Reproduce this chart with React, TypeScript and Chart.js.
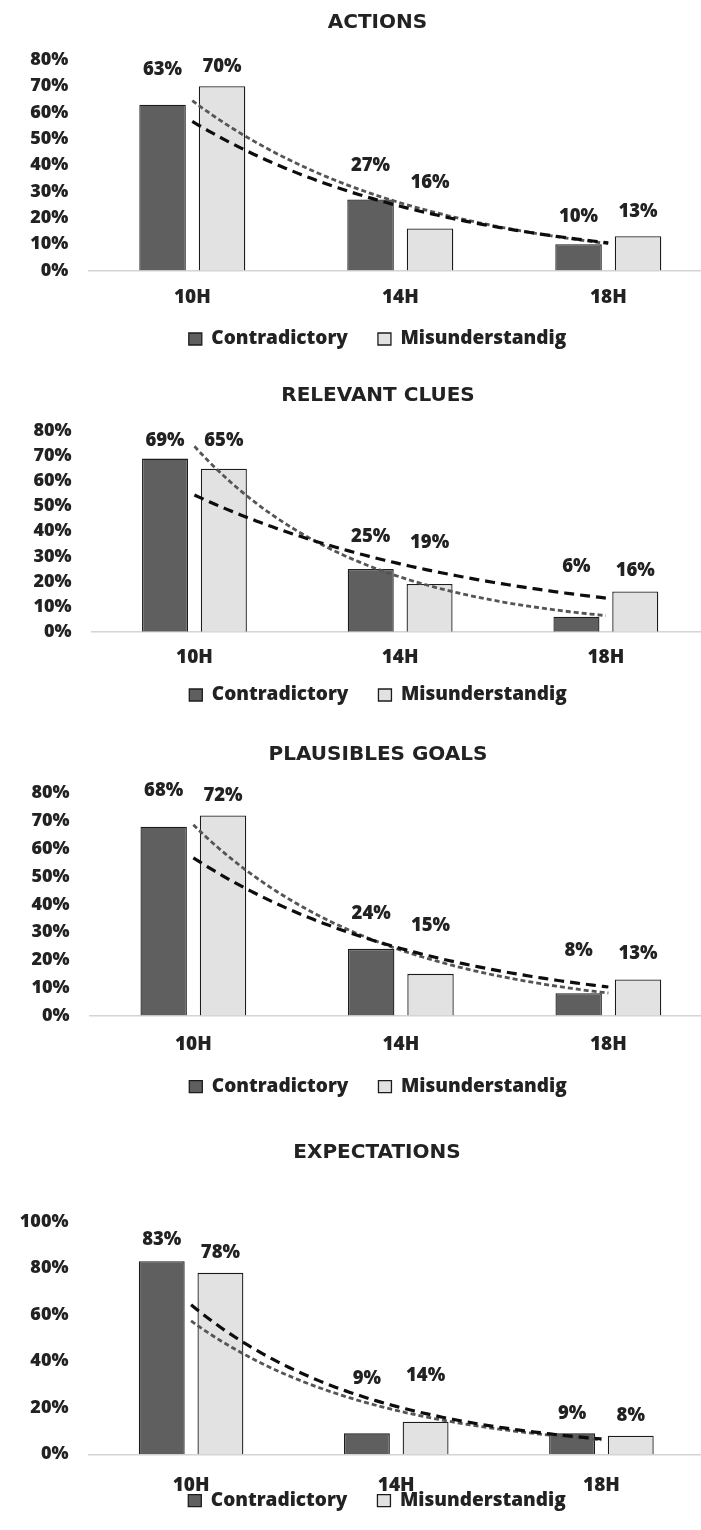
import React, { useEffect, useRef } from 'react';
import { Chart, registerables } from 'chart.js';

Chart.register(...registerables);

// ---------- data ----------
const categories = ['10H', '14H', '18H'];
const seriesNames = ['Contradictory', 'Misunderstandig'];

const actionsContradictory = [63, 27, 10];
const actionsMisunderstandig = [70, 16, 13];

const cluesContradictory = [69, 25, 6];
const cluesMisunderstandig = [65, 19, 16];

const goalsContradictory = [68, 24, 8];
const goalsMisunderstandig = [72, 15, 13];

const expectContradictory = [83, 9, 9];
const expectMisunderstandig = [78, 14, 8];

const chartTitles = ['ACTIONS', 'RELEVANT CLUES', 'PLAUSIBLES GOALS', 'EXPECTATIONS'];
const yMaxValues = [80, 80, 80, 100];
const yStepValues = [10, 10, 10, 20];

// ---------- styles / layout ----------
const TEXT = '#222222';
const BAR_COLORS = ['#5f5f5f', '#e2e2e2'];
const BAR_BORDER = '#1c1c1c';
const TREND_STYLES = [
  { color: '#555555', width: 2.8, dash: [5, 3] },
  { color: '#0d0d0d', width: 3.2, dash: [10, 6] },
];
const FONT = "'Open Sans', sans-serif";
const WEIGHT = 800;
const TITLE_FONT = "'DejaVu Sans', sans-serif";
const TITLE_SIZE = 20;
const YTICK_SIZE = 18;
const XTICK_SIZE = 19;
const LEGEND_SIZE = 19;
const LEGEND_PAD = 30;
const LABEL_SIZE = 18.5;

const panelLayouts = [
  { top: 0, height: 360, width: 755, titleY: 23, plotTop: 60, plotBottom: 270.5, plotLeft: 88.3, plotRight: 712.3, xLabelY: 298, legendY: 339,
    lift: [[34.6, 34, 27.7], [19.6, 45.7, 24.2]] },
  { top: 360, height: 360, width: 756, titleY: 396, plotTop: 431, plotBottom: 631.7, plotLeft: 91.6, plotRight: 708.7, xLabelY: 657.3, legendY: 695,
    lift: [[17.6, 32.3, 49.9], [27.6, 41.3, 20.6]] },
  { top: 720, height: 390, width: 756, titleY: 755, plotTop: 793.3, plotBottom: 1015.5, plotLeft: 89.6, plotRight: 712.1, xLabelY: 1045, legendY: 1086.7,
    lift: [[35.6, 35.5, 42.6], [19.8, 47.8, 26.1]] },
  { top: 1110, height: 420, width: 754, titleY: 1152.3, plotTop: 1221.7, plotBottom: 1454.3, plotLeft: 88.5, plotRight: 704, xLabelY: 1485.7, legendY: 1500.7,
    lift: [[21.2, 55.1, 19.4], [20.6, 45.7, 20]] },
];

const panelSeries = [
  [actionsContradictory, actionsMisunderstandig],
  [cluesContradictory, cluesMisunderstandig],
  [goalsContradictory, goalsMisunderstandig],
  [expectContradictory, expectMisunderstandig],
];

// Excel-style exponential trendline, drawn through the chart's own scales
const trendPlugin = {
  id: 'expTrend',
  afterDatasetsDraw(chart: any) {
    const { ctx, scales } = chart;
    const xs = scales.x;
    const ys = scales.y;
    chart.data.datasets.forEach((ds: any, di: number) => {
      const vals = ds.data as number[];
      const n = vals.length;
      const idx = vals.map((_, i) => i);
      const lns = vals.map((v) => Math.log(v));
      const mx = idx.reduce((a, b) => a + b, 0) / n;
      const ml = lns.reduce((a, b) => a + b, 0) / n;
      let sxy = 0;
      let sxx = 0;
      for (let i = 0; i < n; i++) {
        sxy += (idx[i] - mx) * (lns[i] - ml);
        sxx += (idx[i] - mx) * (idx[i] - mx);
      }
      const b = sxy / sxx;
      const a = ml - b * mx;
      const st = TREND_STYLES[di];
      ctx.save();
      ctx.beginPath();
      ctx.setLineDash(st.dash);
      ctx.lineWidth = st.width;
      ctx.strokeStyle = st.color;
      const steps = 80;
      for (let k = 0; k <= steps; k++) {
        const t = ((n - 1) * k) / steps;
        const px = xs.getPixelForValue(t);
        const py = ys.getPixelForValue(Math.exp(a + b * t));
        if (k === 0) ctx.moveTo(px, py);
        else ctx.lineTo(px, py);
      }
      ctx.stroke();
      ctx.restore();
    });
  },
};

function makeLabelPlugin(lift: number[][]) {
  return {
    id: 'barLabels',
    afterDatasetsDraw(chart: any) {
      const { ctx } = chart;
      ctx.save();
      ctx.font = `${WEIGHT} ${LABEL_SIZE}px ${FONT}`;
      ctx.fillStyle = TEXT;
      ctx.textAlign = 'center';
      ctx.textBaseline = 'middle';
      chart.data.datasets.forEach((ds: any, di: number) => {
        const meta = chart.getDatasetMeta(di);
        meta.data.forEach((bar: any, i: number) => {
          ctx.fillText(`${ds.data[i]}%`, bar.x, bar.y - lift[di][i]);
        });
      });
      ctx.restore();
    },
  };
}

// places the bottom legend box at its own row (it may sit close to the category labels)
function makeLegendPlacer(legendTopInCanvas: number) {
  return {
    id: 'legendPlacer',
    afterLayout(chart: any) {
      const lg = chart.legend;
      if (!lg) return;
      const h = LEGEND_PAD + LEGEND_SIZE + 16;
      lg.top = legendTopInCanvas;
      lg.height = h;
      lg.bottom = legendTopInCanvas + h;
    },
  };
}

function Panel({ index }: { index: number }) {
  const ref = useRef<HTMLCanvasElement>(null);
  const L = panelLayouts[index];

  useEffect(() => {
    const titleLH = TITLE_SIZE * 1.2;
    const titlePadTop = L.titleY - L.top - titleLH / 2;
    const titlePadBottom = L.plotTop - L.top - titlePadTop - titleLH;
    const xLH = XTICK_SIZE * 1.2;
    const xTickPad = L.xLabelY - L.plotBottom - xLH / 2;
    const xAxisH = L.xLabelY - L.plotBottom + xLH / 2 + 2;
    const legendTop = L.legendY - LEGEND_PAD - LEGEND_SIZE / 2;
    const legendLayoutH = 1;
    const padBottom = L.top + L.height - (L.plotBottom + xAxisH + legendLayoutH);
    const yAxisW = L.plotLeft;
    const y2W = L.width - L.plotRight;

    const series = panelSeries[index];
    const chart = new Chart(ref.current as HTMLCanvasElement, {
      type: 'bar',
      data: {
        labels: categories,
        datasets: series.map((vals, si) => ({
          label: seriesNames[si],
          data: vals,
          backgroundColor: BAR_COLORS[si],
          borderColor: BAR_BORDER,
          borderWidth: 1.3,
          categoryPercentage: 0.572,
          barPercentage: 0.782,
          yAxisID: 'y',
        })),
      },
      options: {
        animation: false,
        responsive: false,
        events: [],
        layout: { padding: { top: 0, left: 0, right: 0, bottom: padBottom } },
        scales: {
          x: {
            type: 'category',
            offset: true,
            grid: { display: false, drawTicks: false },
            border: { display: true, color: '#d4d4d4', width: 1.5 },
            ticks: {
              padding: xTickPad,
              color: TEXT,
              font: { family: FONT, size: XTICK_SIZE, weight: WEIGHT },
              maxRotation: 0,
              autoSkip: false,
            },
            afterFit: (s: any) => {
              s.height = xAxisH;
            },
          },
          y: {
            type: 'linear',
            position: 'left',
            min: 0,
            max: yMaxValues[index],
            grid: { display: false, drawTicks: false },
            border: { display: false },
            ticks: {
              stepSize: yStepValues[index],
              padding: 20,
              color: TEXT,
              font: { family: FONT, size: YTICK_SIZE, weight: WEIGHT },
              callback: (v: any) => `${v}%`,
            },
            afterFit: (s: any) => {
              s.width = yAxisW;
            },
          },
          y2: {
            type: 'linear',
            position: 'right',
            display: true,
            grid: { display: false, drawTicks: false },
            border: { display: false },
            ticks: { display: false },
            afterFit: (s: any) => {
              s.width = y2W;
            },
          },
        },
        plugins: {
          tooltip: { enabled: false },
          title: {
            display: true,
            text: chartTitles[index],
            color: TEXT,
            font: { family: TITLE_FONT, size: TITLE_SIZE, weight: 'bold', lineHeight: 1.2 },
            padding: { top: titlePadTop, bottom: titlePadBottom },
          },
          legend: {
            display: true,
            position: 'bottom',
            maxHeight: legendLayoutH,
            labels: {
              color: TEXT,
              font: { family: FONT, size: LEGEND_SIZE, weight: WEIGHT },
              boxWidth: 13,
              boxHeight: 12,
              padding: LEGEND_PAD,
            },
          },
        },
      } as any,
      plugins: [trendPlugin, makeLabelPlugin(L.lift), makeLegendPlacer(legendTop - L.top)],
    });
    return () => chart.destroy();
  }, []);

  return (
    <canvas
      ref={ref}
      width={L.width}
      height={L.height}
      style={{ position: 'absolute', left: 0, top: L.top, width: L.width, height: L.height, display: 'block' }}
    />
  );
}

export default function App() {
  return (
    <div
      style={{
        position: 'absolute',
        left: 0,
        top: 0,
        width: 701,
        height: 1530,
        overflow: 'hidden',
        background: '#ffffff',
      }}
    >
      {panelLayouts.map((_, i) => (
        <Panel key={i} index={i} />
      ))}
    </div>
  );
}
